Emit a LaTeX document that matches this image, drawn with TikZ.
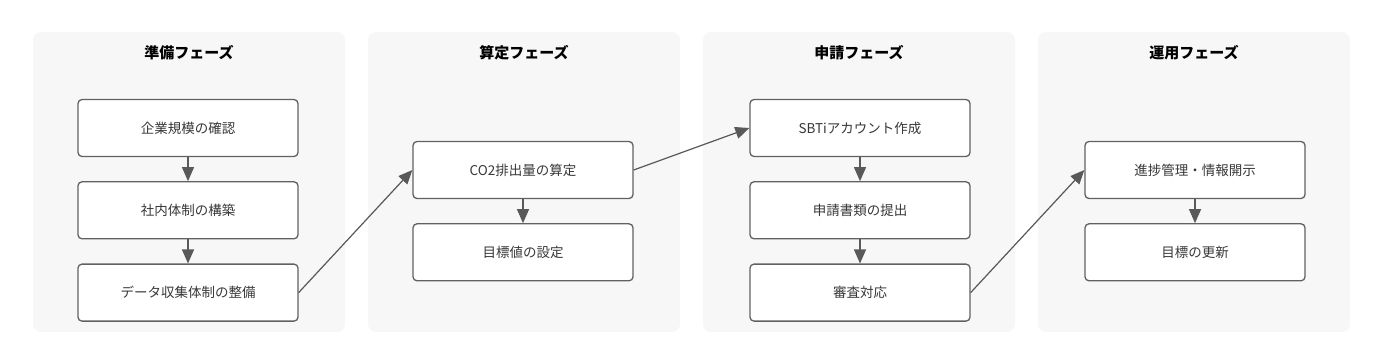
\documentclass[tikz,border=0pt]{standalone}
\usepackage{fontspec}
\setmainfont{Noto Sans CJK JP}
\usetikzlibrary{arrows.meta,positioning,backgrounds}

\begin{document}
\begin{tikzpicture}[
  x=1pt, y=-1pt,
  node distance=24pt,
  phase/.style={fill=black!3, rounded corners=8pt, minimum width=312pt, minimum height=300pt, inner sep=0pt},
  title/.style={font=\fontsize{15}{18}\selectfont\bfseries},
  box/.style={draw=black!62, line width=1.3pt, rounded corners=4pt, fill=white, minimum width=220pt, minimum height=57pt, font=\fontsize{13.5}{16}\selectfont, text=black!78},
  arrow/.style={-{Triangle[length=14pt,width=12pt]}, draw=black!65, fill=black!65, line width=1.2pt}
]
\useasboundingbox (0,0) rectangle (1399,360);
\node[phase] (prep) at (189,182) {};
\node[phase] (calc) at (524,182) {};
\node[phase] (apply) at (859,182) {};
\node[phase] (run) at (1194,182) {};
\node[title] at (189,53) {準備フェーズ};
\node[title] at (524,53) {算定フェーズ};
\node[title] at (859,53) {申請フェーズ};
\node[title] at (1194,53) {運用フェーズ};

\node[box] (size) at (188,128) {企業規模の確認};
\node[box, below=of size] (team) {社内体制の構築};
\node[box, below=of team] (data) {データ収集体制の整備};

\node[box] (co2) at (523,170) {CO2排出量の算定};
\node[box, below=of co2] (target) {目標値の設定};

\node[box] (account) at (860,128) {SBTiアカウント作成};
\node[box, below=of account] (submit) {申請書類の提出};
\node[box, below=of submit] (review) {審査対応};

\node[box] (report) at (1195,170) {進捗管理・情報開示};
\node[box, below=of report] (update) {目標の更新};

\draw[arrow] (size) -- (team);
\draw[arrow] (team) -- (data);
\draw[arrow] (co2) -- (target);
\draw[arrow] (account) -- (submit);
\draw[arrow] (submit) -- (review);
\draw[arrow] (report) -- (update);
\draw[arrow] (data.east) -- (co2.west);
\draw[arrow] (co2.east) -- (account.west);
\draw[arrow] (review.east) -- (report.west);
\end{tikzpicture}
\end{document}
